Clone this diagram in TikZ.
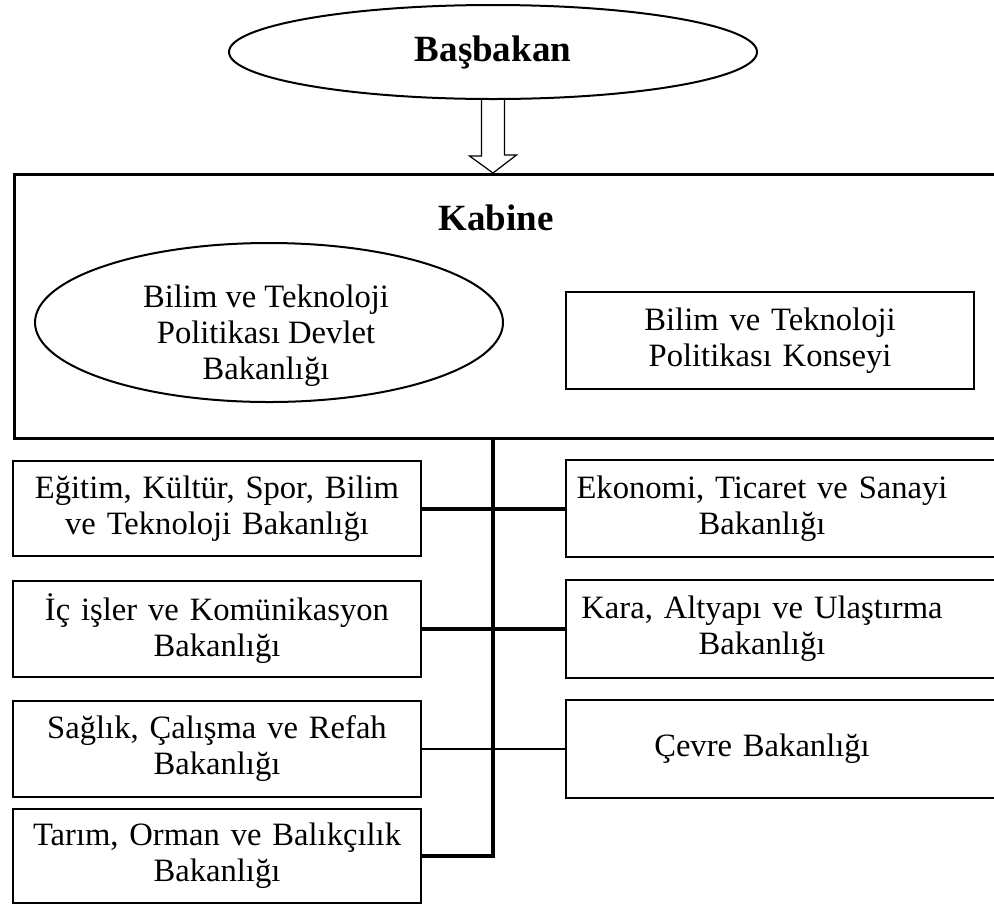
\documentclass[tikz,border=0pt]{standalone}
\usepackage{fontspec}
\setmainfont{Liberation Serif}
\usetikzlibrary{shapes.geometric,calc}

\begin{document}
\begin{tikzpicture}[x=1pt,y=-1pt,line width=1pt,font=\fontsize{16.3}{18}\selectfont,
  box/.style={draw,align=center,text width=200pt,inner xsep=2pt,minimum height=47.5pt},
  openbox/.style={align=center,text width=195pt,inner xsep=0pt,minimum height=47.5pt,anchor=west},
  title/.style={font=\fontsize{18.5}{20}\selectfont\bfseries},
  link/.style={line width=2pt}]
  \useasboundingbox (0,0) rectangle (497,453);
  % top
  \node[draw,ellipse,minimum width=264pt,minimum height=47pt,title] (bas) at (246.5,26) {Başbakan};
  \node[draw,line width=1.3pt,minimum width=505.5pt,minimum height=132pt,anchor=north west,inner sep=0pt] (kab) at (6.5,86.5) {};
  \node[title] (kabt) at (248,109) {Kabine};
  \draw[line width=0.6pt] ($(bas.south)+(-5.75,0)$) -- ++(0,28) -- ++(-6,0) -- (kab.north -| bas.south)
    -- ++(11.75,-9) -- ++(-6,0) -- ++(0,-28);
  % inside the cabinet
  \node[draw,ellipse,minimum width=234pt,minimum height=79.5pt] (dbak) at (134.5,161.25) {};
  \node[align=center] (dbakt) at (133,168) {Bilim ve Teknoloji\\Politikası Devlet\\Bakanlığı};
  \node[box,minimum height=48.5pt] (kons) at (385,170.25) {Bilim ve Teknoloji\\Politikası Konseyi};
  % ministries
  \node[box] (egt) at (108.5,254.25) {Eğitim, Kültür, Spor, Bilim\\ve Teknoloji Bakanlığı};
  \node[box,minimum height=48pt] (ic) at (108.5,314.5) {İç işler ve Komünikasyon\\Bakanlığı};
  \node[box,minimum height=48pt] (sag) at (108.5,374.5) {Sağlık, Çalışma ve Refah\\Bakanlığı};
  \node[box,minimum height=47pt] (tar) at (108.5,428) {Tarım, Orman ve Balıkçılık\\Bakanlığı};
  \node[openbox] (eko) at (283,254.25) {Ekonomi, Ticaret ve Sanayi\\Bakanlığı};
  \node[openbox,minimum height=48pt] (kara) at (283,314.5) {Kara, Altyapı ve Ulaştırma\\Bakanlığı};
  \node[openbox,minimum height=48pt] (cev) at (283,374.5) {Çevre Bakanlığı};
  \foreach \b in {eko,kara,cev}
    \draw ([xshift=30pt]\b.north east) -| (\b.south west) -- ++(240,0);
  % links
  \draw[link] (kab.south -| bas.south) |- (tar.east);
  \draw[link] (egt.east) -- (eko.west);
  \draw[link] (ic.east) -- (kara.west);
  \draw (sag.east) -- (cev.west);
\end{tikzpicture}
\end{document}
